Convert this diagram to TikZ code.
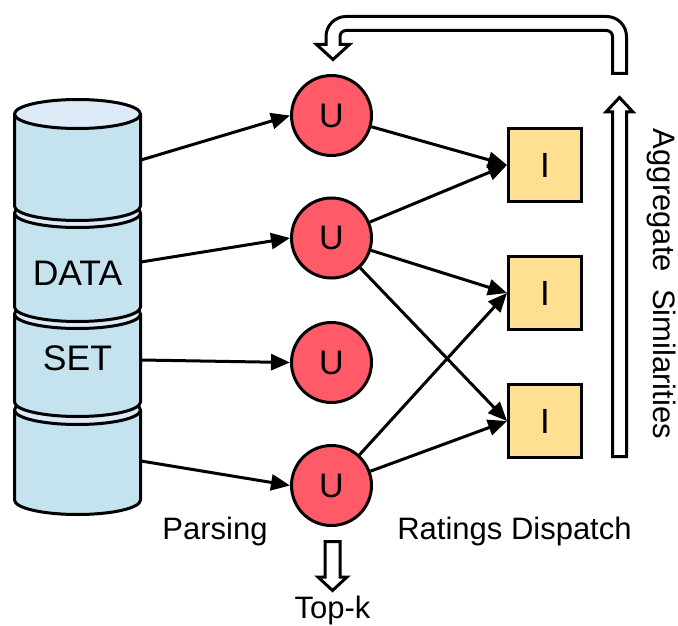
\documentclass[tikz,border=0pt]{standalone}
\usepackage{fontspec}
\setmainfont{Liberation Sans}
\usetikzlibrary{arrows.meta}
\definecolor{cylbody}{HTML}{C5E2EF}
\definecolor{cyltop}{HTML}{DCEBF7}
\definecolor{ured}{HTML}{FF5A68}
\definecolor{iyel}{HTML}{FFDF91}
\tikzset{
  ubox/.style={circle, draw, line width=3pt, fill=ured, minimum size=80pt, inner sep=0pt, font=\fontsize{34}{40}\selectfont},
  ibox/.style={rectangle, draw, line width=3pt, fill=iyel, minimum size=73pt, inner sep=0pt, font=\fontsize{35}{40}\selectfont},
  link/.style={line width=3pt, -{Triangle[length=19pt,width=16pt]}},
  hollow/.style={draw, line width=3pt, fill=white, line join=miter},
  cylline/.style={line width=3pt, line join=round},
  lbl/.style={font=\fontsize{31}{37}\selectfont, inner sep=0pt},
  biglbl/.style={font=\fontsize{35.5}{40}\selectfont, inner sep=0pt}
}
\begin{document}
\begin{tikzpicture}[x=1pt,y=1pt,yscale=-1]
\useasboundingbox (0,0) rectangle (678,626);
% cylinder (data set)
\foreach \yt/\yb in {410/500,314/402,213/307,114/206}{
  \filldraw[cylline, fill=cylbody] (14.5,\yt) -- (14.5,\yb) arc[start angle=180,end angle=0,x radius=63,y radius=14.5] -- (140.5,\yt) -- cycle;
  \filldraw[cylline, fill=cyltop] (77.5,\yt) ellipse[x radius=63,y radius=14.5];
}
\node[biglbl] (data) at (77.5,273.5) {DATA};
\node[biglbl] (set) at (77.5,358.5) {SET};
\coordinate (c1) at (141,160);
\coordinate (c2) at (141,262);
\coordinate (c3) at (141,360);
\coordinate (c4) at (141,461);
% users
\node[ubox] (U1) at (331.5,115.5) {U};
\node[ubox] (U2) at (331.5,238) {U};
\node[ubox] (U3) at (331.5,362.5) {U};
\node[ubox] (U4) at (331.5,485.5) {U};
% items
\node[ibox] (I1) at (545,165) {I};
\node[ibox] (I2) at (545,293) {I};
\node[ibox] (I3) at (545,421) {I};
% connectors
\draw[link] (c1) -- (U1.west);
\draw[link] (c2) -- (U2.west);
\draw[link] (c3) -- (U3.west);
\draw[link] (c4) -- (U4.west);
\draw[link] (U1) -- (I1.west);
\draw[link] (U2) -- (I1.west);
\draw[link] (U2) -- (I2.west);
\draw[link] (U2) -- (I3.west);
\draw[link] (U4) -- (I2.west);
\draw[link] (U4) -- (I3.west);
% hollow arrows
\path[hollow] (612.5,73.5) -- (626.5,73.5) -- (626.5,36.5)
  arc[start angle=0,end angle=-90,radius=20] -- (346,16.5)
  arc[start angle=-90,end angle=-180,radius=20] -- (326,44.5) -- (316.5,44.5) -- (333,59.5) -- (349.5,44.5) -- (340,44.5) -- (340,36.5)
  arc[start angle=180,end angle=270,radius=6] -- (606.5,30.5)
  arc[start angle=270,end angle=360,radius=6] -- cycle;
\path[hollow] (612.5,456.5) -- (612.5,112) -- (606,112) -- (619.5,97.5) -- (633,112) -- (626.5,112) -- (626.5,456.5) -- cycle;
\path[hollow] (325,541.5) -- (340,541.5) -- (340,577) -- (347,577) -- (332.5,590.5) -- (318,577) -- (325,577) -- cycle;
% labels
\node[lbl, anchor=base] (parsing) at (215,539) {Parsing};
\node[lbl, anchor=base] (dispatch) at (514.5,539) {Ratings Dispatch};
\node[lbl, anchor=base] (topk) at (332.5,618) {Top-k};
\node[lbl, rotate=-90] (agg) at (662,284) {Aggregate~~Similarities};
\end{tikzpicture}
\end{document}
